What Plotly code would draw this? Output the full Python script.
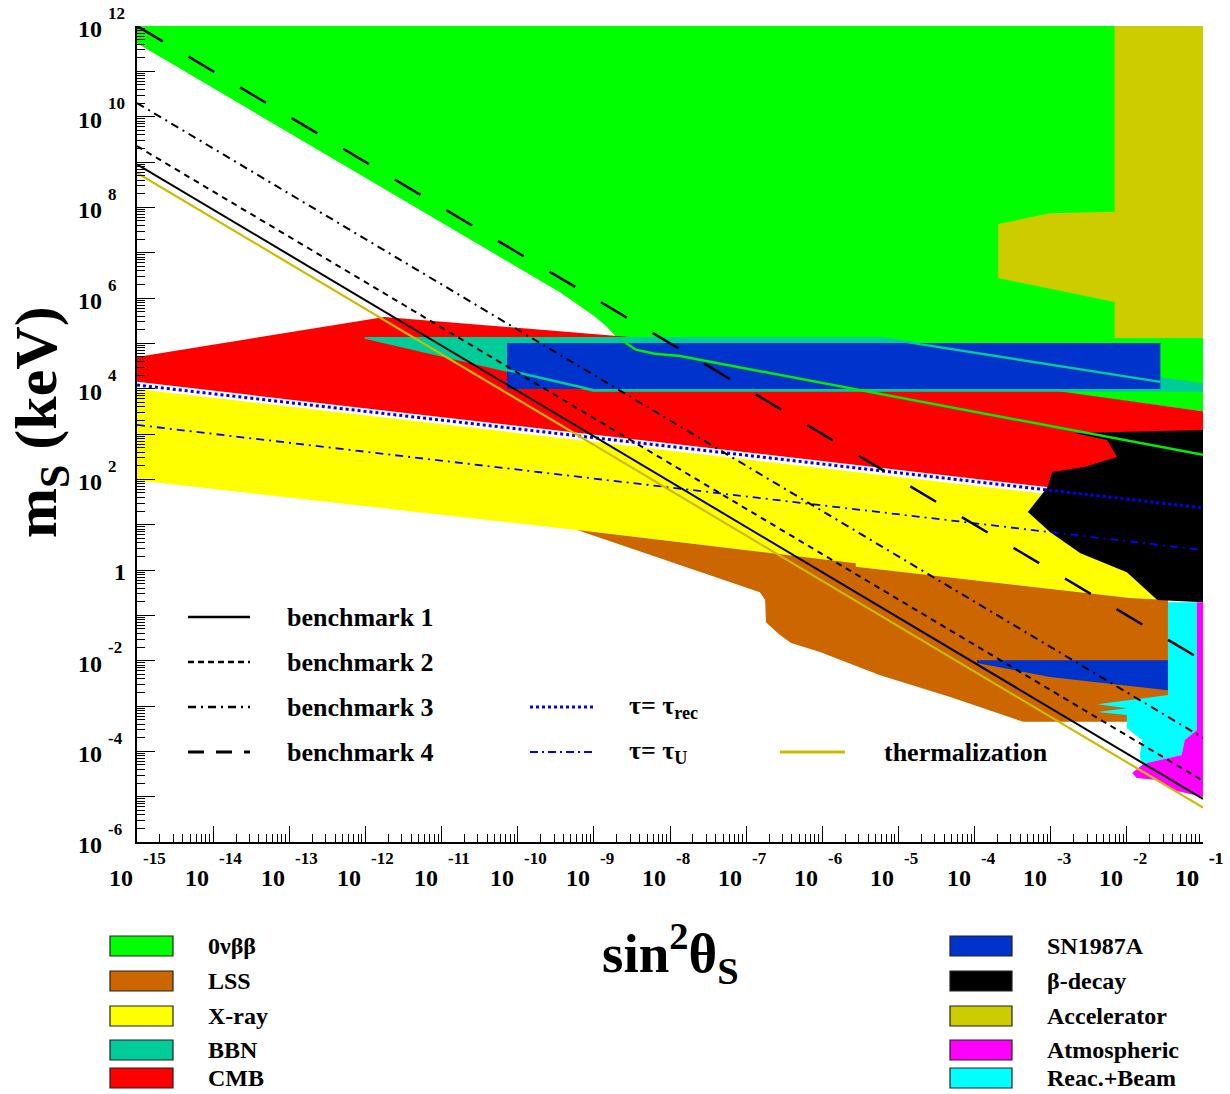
import plotly.graph_objects as go

# ---------------- data (log10 sin^2(theta_S), log10 m_S/keV) ----------------
ovbb_x = [-15, -1, -1, -3.0, -8.63, -8.72, -8.85, -9.01, -9.44, -15]
ovbb_y = [12, 12, 3.50, 3.95, 5.07, 5.17, 5.40, 5.62, 6.12, 11.62]

accel_x = [-2.16, -1, -1, -2.16, -2.16, -3.69, -3.69, -3.01, -2.16]
accel_y = [12, 12, 5.12, 5.12, 5.91, 6.44, 7.63, 7.87, 7.90]

cmb_x = [-15, -11.75, -8.53, -3.01, -1, -1, -3.05, -15]
cmb_y = [4.70, 5.58, 5.14, 3.97, 3.50, 1.45, 1.83, 4.15]

bbn_x = [-12.01, -5.24, -1, -1, -9.01, -10.14, -12.01]
bbn_y = [5.14, 5.14, 4.12, 3.93, 3.93, 4.37, 5.10]
bbn_edge1_x = [-10.14, -9.01]
bbn_edge1_y = [4.41, 3.97]
bbn_edge2_x = [-5.24, -1.56]
bbn_edge2_y = [5.12, 4.15]

sn_hi_x = [-10.14, -1.56, -1.56, -10.14]
sn_hi_y = [5.01, 5.01, 3.99, 3.99]
sn_lo_x = [-3.97, -1.46, -1.46, -3.01, -3.97]
sn_lo_y = [-1.99, -1.99, -2.65, -2.36, -2.05]

xray_x = [-15, -1, -1, -1.96, -5.56, -5.56, -9.22, -15]
xray_y = [3.99, 1.28, -0.70, -0.62, 0.07, 0.15, 0.88, 1.98]

lss_x = [-9.22, -5.56, -5.56, -1.96, -1.46, -1.46, -1.98, -3.36, -4.32, -5.24,
         -6.03, -6.41, -6.56, -6.74, -6.75, -6.82]
lss_y = [0.88, 0.15, 0.07, -0.62, -0.66, -3.35, -3.35, -3.35, -2.80, -2.32,
         -1.81, -1.61, -1.43, -1.15, -0.66, -0.49]

beta_x = [-2.68, -1, -1, -1.60, -2.00, -2.61, -3.01, -3.30, -3.04, -2.98, -2.56, -2.13, -2.26]
beta_y = [3.02, 3.09, -0.71, -0.66, -0.05, 0.37, 0.84, 1.28, 1.83, 2.16, 2.27, 2.49, 2.87]

reac_x = [-1.46, -1.08, -1.08, -1.24, -1.28, -1.70, -1.80, -1.83, -1.80, -2.00,
          -2.00, -2.39, -2.00, -2.39, -1.46]
reac_y = [-0.71, -0.71, -3.53, -3.75, -4.08, -4.24, -4.30, -4.10, -3.75, -3.49,
          -3.20, -3.13, -3.05, -2.96, -2.76]

atm_x = [-1.08, -1, -1, -1.41, -1.60, -1.87, -1.93, -1.80, -1.70, -1.28, -1.24, -1.08]
atm_y = [-0.71, -0.71, -5.01, -4.85, -4.63, -4.59, -4.48, -4.30, -4.24, -4.08, -3.75, -3.53]

line_x = [-15, -1]
bm1_y = [8.95, -5.05]
bm2_y = [9.35, -4.65]
bm3_y = [10.30, -3.70]
bm4_y = [12.0, -2.0]
therm_y = [8.76, -5.24]
tau_rec_y = [4.08, 1.37]
tau_u_y = [3.20, 0.44]
ovbb_line_x = [-8.63, -8.45, -8.2, -7.87, -1.0]
ovbb_line_y = [5.07, 4.86, 4.77, 4.72, 2.54]

x_tick_exps = list(range(-15, 0))
y_tick_exps = list(range(-6, 13))
y_label_exps = [12, 10, 8, 6, 4, 2, 0, -2, -4, -6]

legend_left = [("0νββ", "#00FF00"), ("LSS", "#CC6600"), ("X-ray", "#FFFF00"),
               ("BBN", "#00CC99"), ("CMB", "#FF0000")]
legend_right = [("SN1987A", "#0033CC"), ("β-decay", "#000000"), ("Accelerator", "#CCCC00"),
                ("Atmospheric", "#FF00FF"), ("Reac.+Beam", "#00FFFF")]

# ---------------- layout geometry (pixels) ----------------
W, H = 1230, 1094
L, R, T, B = 137, 1203, 26, 842
SERIF = "Liberation Serif"


def xp(px):
    return (px - L) / (R - L)


def yp(py):
    return (B - py) / (B - T)


def v(lst):
    return [10 ** a for a in lst]


def fnt(size):
    return dict(family=SERIF, size=size, color="black", weight="bold")


fig = go.Figure()


def region(xs, ys, color):
    fig.add_trace(go.Scatter(x=v(xs), y=v(ys), mode="lines", fill="toself",
                             fillcolor=color, line=dict(width=0, color=color),
                             hoverinfo="skip", showlegend=False))


def curve(xs, ys, color, width, dash="solid"):
    fig.add_trace(go.Scatter(x=v(xs), y=v(ys), mode="lines",
                             line=dict(color=color, width=width, dash=dash),
                             hoverinfo="skip", showlegend=False))


region(ovbb_x, ovbb_y, "#00FF00")
region(accel_x, accel_y, "#CCCC00")
region(cmb_x, cmb_y, "#FF0000")
region(bbn_x, bbn_y, "#00CC99")
region(sn_hi_x, sn_hi_y, "#0033CC")
curve(bbn_edge1_x, bbn_edge1_y, "#00CC99", 2.5)
curve(bbn_edge2_x, bbn_edge2_y, "#00CC99", 2.5)
region(xray_x, xray_y, "#FFFF00")
region(lss_x, lss_y, "#CC6600")
region(sn_lo_x, sn_lo_y, "#0033CC")
region(beta_x, beta_y, "#000000")
region(reac_x, reac_y, "#00FFFF")
region(atm_x, atm_y, "#FF00FF")

curve(ovbb_line_x, ovbb_line_y, "#00EE00", 2.5)
curve(line_x, tau_rec_y, "#0000FF", 3, "dot")
curve(line_x, tau_u_y, "#0000FF", 1.8, "8px,5px,2px,5px")
curve(line_x, therm_y, "#CCBB00", 2.2)
curve(line_x, bm1_y, "#000000", 2)
curve(line_x, bm2_y, "#000000", 2, "6px,5px")
curve(line_x, bm3_y, "#000000", 2, "8px,5px,2px,5px")
curve(line_x, bm4_y, "#000000", 2.5, "30px,30px")

ann = []
shapes = []

# x tick labels
for e in x_tick_exps + [-1]:
    ann.append(dict(x=e, xref="x", y=yp(878), yref="paper", text="10", showarrow=False,
                    xshift=-16, font=fnt(24), xanchor="center", yanchor="middle"))
    ann.append(dict(x=e, xref="x", y=yp(858), yref="paper", text=str(e), showarrow=False,
                    xshift=4, font=fnt(17), xanchor="left", yanchor="middle"))
# y tick labels
for e in y_label_exps:
    if e == 0:
        ann.append(dict(x=xp(120), xref="paper", y=e, yref="y", text="1", showarrow=False,
                        yshift=-2, font=fnt(24), xanchor="center", yanchor="middle"))
        continue
    ann.append(dict(x=xp(90), xref="paper", y=e, yref="y", text="10", showarrow=False,
                    yshift=-3, font=fnt(24), xanchor="center", yanchor="middle"))
    ann.append(dict(x=xp(106), xref="paper", y=e, yref="y", text=str(e), showarrow=False,
                    yshift=13, font=fnt(17), xanchor="left", yanchor="middle"))

# axis titles
ann.append(dict(x=xp(40), xref="paper", y=yp(422), yref="paper", text="m<sub>S</sub> (keV)",
                showarrow=False, textangle=-90, font=fnt(60),
                xanchor="center", yanchor="middle"))
ann.append(dict(x=xp(670), xref="paper", y=yp(953), yref="paper",
                text="sin<sup>2</sup>θ<sub>S</sub>", showarrow=False, font=fnt(55),
                xanchor="center", yanchor="middle"))

# in-plot line legend
line_legend = [
    (188, 250, 617, "#000000", 2.5, "solid", 285, "benchmark 1"),
    (188, 250, 662, "#000000", 2.5, "6px,4px", 285, "benchmark 2"),
    (188, 250, 707, "#000000", 2.5, "8px,5px,2px,5px", 285, "benchmark 3"),
    (188, 250, 752, "#000000", 3, "16px,12px", 285, "benchmark 4"),
    (530, 595, 707, "#0000FF", 3, "dot", 627, "τ= τ<sub>rec</sub>"),
    (530, 595, 752, "#0000FF", 1.8, "8px,4px,2px,4px", 627, "τ= τ<sub>U</sub>"),
    (780, 845, 752, "#CCBB00", 3, "solid", 882, "thermalization"),
]
for x0, x1, yy, col, wd, ds, tx, txt in line_legend:
    shapes.append(dict(type="line", xref="paper", yref="paper", x0=xp(x0), x1=xp(x1),
                       y0=yp(yy), y1=yp(yy), line=dict(color=col, width=wd, dash=ds)))
    ann.append(dict(x=xp(tx), xref="paper", y=yp(yy), yref="paper", text=txt, showarrow=False,
                    font=fnt(26), xanchor="left", yanchor="middle"))

# bottom patch legend
rows_y = [946, 981, 1016, 1050, 1078]
for (name, col), yy in zip(legend_left, rows_y):
    shapes.append(dict(type="rect", xref="paper", yref="paper", x0=xp(110), x1=xp(173),
                       y0=yp(yy + 10), y1=yp(yy - 10), fillcolor=col,
                       line=dict(color="#222222", width=1.2)))
    ann.append(dict(x=xp(207), xref="paper", y=yp(yy), yref="paper", text=name, showarrow=False,
                    font=fnt(24), borderpad=0, xanchor="left", yanchor="middle"))
for (name, col), yy in zip(legend_right, rows_y):
    shapes.append(dict(type="rect", xref="paper", yref="paper", x0=xp(950), x1=xp(1012),
                       y0=yp(yy + 10), y1=yp(yy - 10), fillcolor=col,
                       line=dict(color="#222222", width=1.2)))
    ann.append(dict(x=xp(1046), xref="paper", y=yp(yy), yref="paper", text=name, showarrow=False,
                    font=fnt(24), borderpad=0, xanchor="left", yanchor="middle"))

x_minor = [k * 10.0 ** e for e in range(-15, -1) for k in range(2, 10)]
y_minor = [k * 10.0 ** e for e in range(-6, 12) for k in range(2, 10)]

fig.update_layout(
    width=W, height=H, autosize=False,
    margin=dict(l=L, r=W - R, t=T, b=H - B, pad=0),
    paper_bgcolor="white", plot_bgcolor="white",
    showlegend=False,
    annotations=ann, shapes=shapes,
    xaxis=dict(type="log", range=[-15, -1], showgrid=False, zeroline=False,
               showline=True, linecolor="black", linewidth=1.5,
               tickvals=[10.0 ** e for e in range(-15, 0)], ticks="inside", ticklen=16,
               tickwidth=1.2, tickcolor="black", showticklabels=False,
               minor=dict(tickvals=x_minor, ticks="inside", ticklen=8, tickwidth=1,
                          tickcolor="black", showgrid=False)),
    yaxis=dict(type="log", range=[-6, 12], showgrid=False, zeroline=False,
               showline=True, linecolor="black", linewidth=1.5,
               tickvals=[10.0 ** e for e in y_tick_exps], ticks="inside", ticklen=18,
               tickwidth=1.2, tickcolor="black", showticklabels=False,
               minor=dict(tickvals=y_minor, ticks="inside", ticklen=8, tickwidth=1,
                          tickcolor="black", showgrid=False)),
)

fig.write_html("out.html")
